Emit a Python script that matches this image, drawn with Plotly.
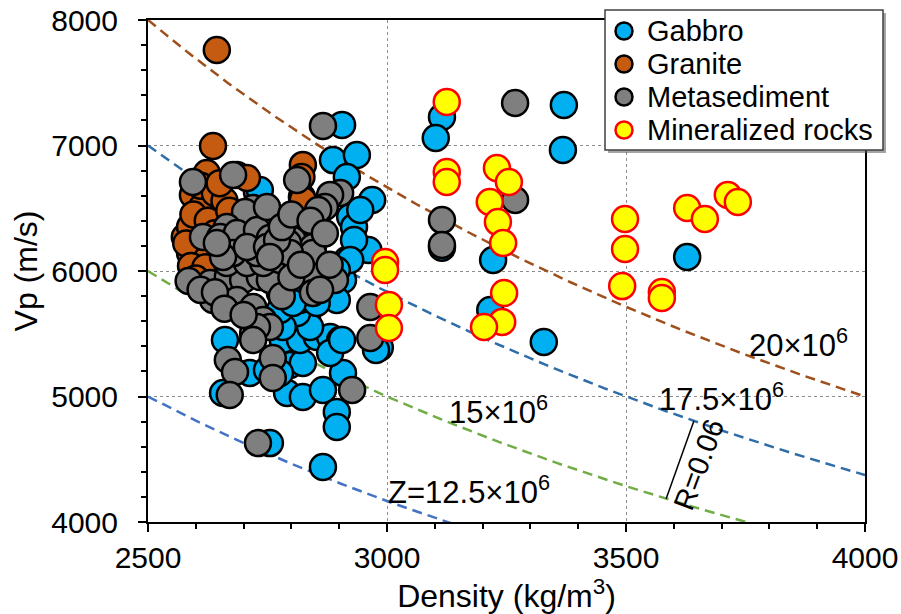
import numpy as np
import plotly.graph_objects as go

# ---------------- data ----------------
gabbro_rho = [3115, 3102, 3370, 3368, 3628, 3328, 3222, 3115, 3216, 2985,
              2906, 2887, 2937, 2916, 2969, 2937, 2916, 2908, 2923, 2824,
              2803, 2839, 2818, 2728, 2734, 2961, 2931, 2944, 2931, 2895,
              2839, 2782, 2812, 2833, 2923, 2895, 2803, 2833, 2776,
              2661, 2657, 2713, 2749, 2797, 2824, 2791, 2824, 2866, 2908,
              2895, 2895, 2866, 2755, 2782, 2818, 2853, 2881, 2902, 2881,
              2839, 2812, 2782, 2818, 2853, 2776, 2977, 2776, 2803, 2906]
gabbro_vp = [7227, 7060, 7323, 6964, 6112, 5434, 6088, 6185, 5689, 5390,
             7164, 6884, 6924, 6749, 6566, 6191, 6088, 5928, 6430, 6486,
             5849, 5769, 5713, 6630, 6645, 6167, 6351, 6486, 6247, 5769,
             5872, 5872, 5634, 5665, 6088, 6008, 5793, 5610, 5825,
             5450, 5028, 5187, 5211, 5251, 5267, 5028, 4996, 5052, 5187,
             4876, 4757, 4438, 4629, 5450, 5450, 5474, 5474, 5450, 5347,
             5554, 5665, 5554, 5769, 5745, 5689, 5371, 5187, 5745, 5450]

granite_rho = [2644, 2636, 2824, 2821, 2822, 2623, 2686, 2707, 2588, 2577,
               2588, 2602, 2602, 2749, 2761, 2594, 2613, 2588, 2602, 2615,
               2761, 2824, 2580, 2595, 2610, 2640, 2660, 2625, 2640, 2590,
               2620, 2600, 2650, 2670]
granite_vp = [7761, 6996, 6845, 6749, 6590, 6781, 6765, 6741, 6327, 6271,
              6143, 6088, 5992, 6406, 6351, 6606, 6510, 6351, 6191, 6112,
              6406, 6566, 6220, 6450, 6680, 6620, 6560, 6400, 6300, 6040,
              6030, 5940, 6700, 6480]

meta_rho = [3268, 3268, 3115, 3115, 2866, 2594, 2678, 2812, 2902, 2881,
            2870, 2856, 2853, 2803, 2845, 2845, 2849, 2891, 2797, 2965,
            2965, 2667, 2682, 2671, 2761, 2761, 2927, 2730,
            2720, 2703, 2665, 2615, 2651, 2686, 2728, 2755, 2793, 2630,
            2667, 2699, 2734, 2755, 2636, 2686, 2720, 2741, 2720, 2755,
            2665, 2707, 2741, 2776, 2797, 2728, 2678, 2657, 2707, 2749,
            2644, 2728, 2720, 2770, 2749, 2755, 2845, 2585, 2610, 2640,
            2660, 2700, 2780, 2800, 2820, 2780, 2800, 2840, 2870, 2880,
            2860]
meta_vp = [7339, 6566, 6406, 6207, 7156, 6709, 6765, 6725, 6622, 6606,
           6510, 6486, 6311, 6247, 6191, 6143, 5952, 5928, 6112, 5713,
           5466, 5291, 5195, 5012, 5307, 5148, 5052, 4629,
           6502, 6470, 6351, 6271, 6271, 6303, 6327, 6263, 6223, 5904,
           5952, 5928, 5952, 5928, 5769, 5769, 5713, 5610, 5506, 5554,
           6064, 6064, 6064, 6088, 6143, 6143, 6143, 6112, 6191, 6191,
           6223, 5554, 5450, 6247, 6510, 6112, 5825, 5920, 5850, 5830,
           5700, 5650, 5800, 5950, 6050, 6350, 6450, 6400, 6300, 6050,
           5850]

mineral_rho = [3125, 3125, 3125, 3230, 3255, 3215, 3232, 3243, 2996, 2996,
               3004, 3004, 3245, 3241, 3203, 3498, 3498, 3492, 3575, 3575,
               3628, 3665, 3713, 3734]
mineral_vp = [7347, 6789, 6709, 6820, 6709, 6550, 6390, 6223, 6072, 6008,
              5730, 5546, 5825, 5594, 5554, 6414, 6175, 5880, 5833, 5785,
              6502, 6414, 6606, 6550]

# impedance iso-lines Z = rho * Vp
z_values = [12.5e6, 15e6, 17.5e6, 20e6]
z_colors = ["#4472C4", "#70AD47", "#2E6DA8", "#9E4F1C"]
z_labels = ["Z=12.5×10<sup>6</sup>", "15×10<sup>6</sup>", "17.5×10<sup>6</sup>", "20×10<sup>6</sup>"]
z_label_pos = [(3172, 4255), (3234, 4892), (3699, 4996), (3860, 5426)]

legend_names = ["Gabbro", "Granite", "Metasediment", "Mineralized rocks"]
legend_fill = ["#00B0F0", "#C55A11", "#7F7F7F", "#FFFF00"]
legend_edge = ["black", "black", "black", "#FF0000"]

FONT = "Liberation Sans, Arial, sans-serif"
W, H = 901, 614
ML, MR, MT, MB = 148, 36, 20, 92
PW, PH = W - ML - MR, H - MT - MB


def px(xp):
    return (xp - ML) / PW


def py(yp):
    return (H - MB - yp) / PH


fig = go.Figure()

rho_line = np.linspace(2500, 4000, 301)
for z, c in zip(z_values, z_colors):
    fig.add_trace(go.Scatter(x=rho_line, y=z / rho_line, mode="lines",
                             line=dict(color=c, width=2.5, dash="10px,6px"),
                             showlegend=False, hoverinfo="skip"))

groups = [
    (legend_names[0], gabbro_rho, gabbro_vp),
    (legend_names[1], granite_rho, granite_vp),
    (legend_names[2], meta_rho, meta_vp),
    (legend_names[3], mineral_rho, mineral_vp),
]
for i, (name, xs, ys) in enumerate(groups):
    fig.add_trace(go.Scatter(x=xs, y=ys, mode="markers", name=name, showlegend=False,
                             marker=dict(size=26, color=legend_fill[i],
                                         line=dict(color=legend_edge[i], width=2.5))))

for lab, (lx, ly) in zip(z_labels, z_label_pos):
    fig.add_annotation(x=lx, y=ly, text=lab, showarrow=False,
                       font=dict(family=FONT, size=31, color="black"))

# R = 0.06 bracket between the 17.5 and 15 lines
r_top = 3642
r_bot = 3584
fig.add_shape(type="line", x0=r_top, y0=17.5e6 / r_top, x1=r_bot, y1=15e6 / r_bot,
              line=dict(color="black", width=1.5))
fig.add_annotation(x=3652, y=4454, text="R=0.06", showarrow=False, textangle=-69.5,
                   font=dict(family=FONT, size=29, color="black"))

# ---- legend box (drawn manually) ----
fig.add_shape(type="rect", xref="paper", yref="paper",
              x0=px(608), x1=px(886), y0=py(153), y1=py(13),
              line=dict(width=0), fillcolor="rgba(90,90,90,0.55)", layer="above")
fig.add_shape(type="rect", xref="paper", yref="paper",
              x0=px(605), x1=px(883), y0=py(150), y1=py(10),
              line=dict(color="#404040", width=1.5), fillcolor="white", layer="above")
leg_y = [31, 64, 97, 130]
for i, name in enumerate(legend_names):
    fig.add_shape(type="circle", xref="paper", yref="paper",
                  xsizemode="pixel", ysizemode="pixel",
                  xanchor=px(624), yanchor=py(leg_y[i]),
                  x0=-8.5, x1=8.5, y0=-8.5, y1=8.5,
                  fillcolor=legend_fill[i], line=dict(color=legend_edge[i], width=2.5),
                  layer="above")
    fig.add_annotation(xref="paper", yref="paper", x=px(645), y=py(leg_y[i]),
                       xanchor="left", yanchor="middle", text=name, showarrow=False,
                       font=dict(family=FONT, size=29, color="black"))

axis_common = dict(showline=True, linecolor="black", linewidth=2, mirror=True,
                   ticks="outside", ticklen=8, tickwidth=2, tickcolor="black",
                   showgrid=True, gridcolor="#8C8C8C", griddash="dot", gridwidth=1,
                   zeroline=False, tickfont=dict(family=FONT, size=30, color="black"))

fig.update_xaxes(range=[2500, 4000], dtick=500, tick0=2500,
                 minor=dict(dtick=100, ticks="outside", ticklen=5, tickcolor="black", showgrid=False),
                 title=dict(text="Density (kg/m<sup>3</sup>)", font=dict(family=FONT, size=32, color="black"),
                            standoff=12),
                 **axis_common)
fig.update_yaxes(range=[4000, 8000], dtick=1000, tick0=4000,
                 minor=dict(dtick=200, ticks="outside", ticklen=5, tickcolor="black", showgrid=False),
                 ticklabelstandoff=14,
                 title=dict(text="Vp (m/s)", font=dict(family=FONT, size=32, color="black"),
                            standoff=4),
                 **axis_common)

fig.update_layout(
    width=W, height=H,
    margin=dict(l=ML, r=MR, t=MT, b=MB, autoexpand=False),
    paper_bgcolor="white", plot_bgcolor="white",
    font=dict(family=FONT, size=28, color="black"),
    showlegend=False,
)

fig.write_html("out.html")
